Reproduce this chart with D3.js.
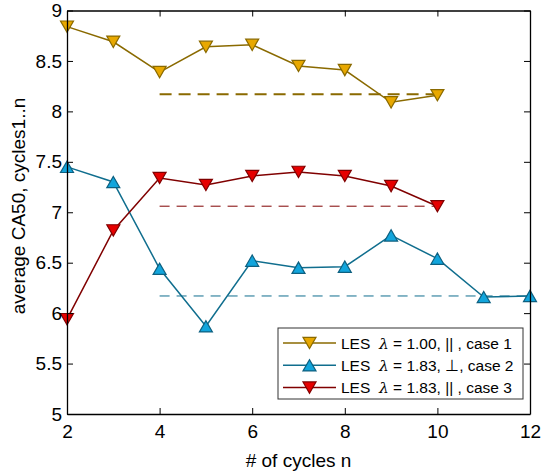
<!DOCTYPE html>
<html>
<head>
<meta charset="utf-8">
<script src="https://d3js.org/d3.v7.min.js"></script>
<style>
  body { margin: 0; background: #fff; }
  text { font-family: "Liberation Sans", Arial, sans-serif; white-space: pre; }
</style>
</head>
<body>
<script>
// data
var cycles1 = [2, 3, 4, 5, 6, 7, 8, 9, 10];
var case1 = [8.84, 8.69, 8.39, 8.64, 8.66, 8.45, 8.41, 8.09, 8.16];
var cycles2 = [2, 3, 4, 5, 6, 7, 8, 9, 10, 11, 12];
var case2 = [7.45, 7.30, 6.44, 5.87, 6.52, 6.45, 6.46, 6.77, 6.54, 6.16, 6.17];
var cycles3 = [2, 3, 4, 5, 6, 7, 8, 9, 10];
var case3 = [5.94, 6.82, 7.34, 7.27, 7.36, 7.40, 7.36, 7.26, 7.06];
// dashed mean lines: [x start, x end, value]
var means = [[4, 10, 8.17], [4, 12, 6.17], [4, 10, 7.06]];
var xTicks = [2, 4, 6, 8, 10, 12];
var yTicks = [5, 5.5, 6, 6.5, 7, 7.5, 8, 8.5, 9];
var labelPre = ["LES  ", "LES  ", "LES  "];
var labelPost = [" = 1.00, || , case 1", " = 1.83, \u22a5, case 2", " = 1.83, || , case 3"];

var width = 547, height = 473;
var margin = {left: 67, right: 17, top: 10.5, bottom: 59};

var styles = [
  {line: "#8a6a00", fill: "#e8a800", edge: "#8a6a00", down: true, dash: "12,7", w: 2},
  {line: "#106e8e", fill: "#12a5dc", edge: "#0e6080", down: false, dash: "10,7", w: 1},
  {line: "#800000", fill: "#e60000", edge: "#800000", down: true, dash: "10,7", w: 1}
];
var series = [[cycles1, case1], [cycles2, case2], [cycles3, case3]];

var svg = d3.select("body").append("svg")
  .attr("width", width).attr("height", height);

var x = d3.scaleLinear().domain([2, 12]).range([margin.left, width - margin.right]);
var y = d3.scaleLinear().domain([5, 9]).range([height - margin.bottom, margin.top]);

// triangle marker path, centred on the point
function tri(down, s) {
  var h = s * 0.87;
  if (down) return "M" + (-s / 2) + "," + (-h / 2) + "L" + (s / 2) + "," + (-h / 2) + "L0," + (h / 2) + "Z";
  return "M" + (-s / 2) + "," + (h / 2) + "L" + (s / 2) + "," + (h / 2) + "L0," + (-h / 2) + "Z";
}

// dashed means
svg.selectAll(".mean").data(means).enter().append("line")
  .attr("x1", function(d) { return x(d[0]); })
  .attr("x2", function(d) { return x(d[1]); })
  .attr("y1", function(d) { return y(d[2]); })
  .attr("y2", function(d) { return y(d[2]); })
  .attr("stroke", function(d, i) { return styles[i].line; })
  .attr("stroke-width", function(d, i) { return styles[i].w; })
  .attr("stroke-dasharray", function(d, i) { return styles[i].dash; });

var line = d3.line().x(function(d) { return x(d[0]); }).y(function(d) { return y(d[1]); });

series.forEach(function(s, i) {
  var pts = s[0].map(function(c, j) { return [c, s[1][j]]; });
  var st = styles[i];
  svg.append("path").datum(pts)
    .attr("d", line).attr("fill", "none")
    .attr("stroke", st.line).attr("stroke-width", 1.5);
  svg.selectAll(".m" + i).data(pts).enter().append("path")
    .attr("transform", function(d) { return "translate(" + x(d[0]) + "," + y(d[1]) + ")"; })
    .attr("d", tri(st.down, 13))
    .attr("fill", st.fill).attr("stroke", st.edge).attr("stroke-width", 1.2);
});

// axes box with inward ticks
var xAxis = d3.axisBottom(x).tickValues(xTicks).tickSizeInner(-6).tickSizeOuter(0).tickPadding(11);
var yAxis = d3.axisLeft(y).tickValues(yTicks).tickFormat(d3.format("")).tickSizeInner(-6).tickSizeOuter(0).tickPadding(5);

var gx = svg.append("g").attr("transform", "translate(0," + (height - margin.bottom) + ")").call(xAxis);
var gy = svg.append("g").attr("transform", "translate(" + margin.left + ",0)").call(yAxis);
var gx2 = svg.append("g").attr("transform", "translate(0," + margin.top + ")")
  .call(d3.axisTop(x).tickValues(xTicks).tickSizeInner(-6).tickSizeOuter(0).tickFormat(""));
var gy2 = svg.append("g").attr("transform", "translate(" + (width - margin.right) + ",0)")
  .call(d3.axisRight(y).tickValues(yTicks).tickSizeInner(-6).tickSizeOuter(0).tickFormat(""));

[gx, gy, gx2, gy2].forEach(function(g) {
  g.select(".domain").attr("stroke", "#000").attr("stroke-width", 1.3);
  g.selectAll(".tick line").attr("stroke", "#000").attr("stroke-width", 1);
  g.selectAll("text").attr("font-size", 19).attr("fill", "#000")
    .attr("font-family", "Liberation Sans, Arial, sans-serif");
});

svg.append("text")
  .attr("x", (margin.left + width - margin.right) / 2).attr("y", 467)
  .attr("text-anchor", "middle").attr("font-size", 19).text("# of cycles n");

svg.append("text")
  .attr("transform", "translate(25,206) rotate(-90)")
  .attr("text-anchor", "middle").attr("font-size", 19).text("average CA50, cycles1..n");

// legend
var lg = svg.append("g").attr("transform", "translate(278,328)");
lg.append("rect").attr("width", 245).attr("height", 71)
  .attr("fill", "#fff").attr("stroke", "#333").attr("stroke-width", 1);
labelPost.forEach(function(t, i) {
  var yy = 15 + i * 22.3;
  var st = styles[i];
  lg.append("line").attr("x1", 5).attr("x2", 58).attr("y1", yy).attr("y2", yy)
    .attr("stroke", st.line).attr("stroke-width", 1.5);
  lg.append("path").attr("transform", "translate(31.5," + yy + ")")
    .attr("d", tri(st.down, 13))
    .attr("fill", st.fill).attr("stroke", st.edge).attr("stroke-width", 1.2);
  var tx = lg.append("text").attr("x", 63).attr("y", yy + 5.5).attr("font-size", 15.5);
  tx.append("tspan").text(labelPre[i]);
  tx.append("tspan").attr("font-family", "DejaVu Serif, serif").attr("font-style", "italic").text("\u03bb");
  tx.append("tspan").text(t);
});
</script>
</body>
</html>
